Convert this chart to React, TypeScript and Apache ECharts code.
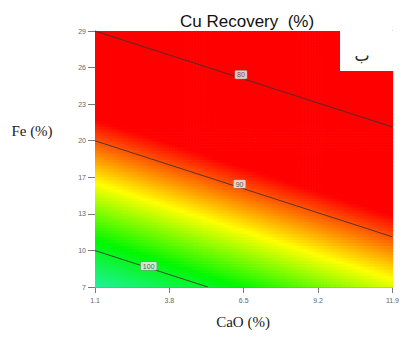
import React, { useEffect, useRef } from "react";
import * as echarts from "echarts";

// Axis ranges and tick labels
const caoRange = [1.1, 11.9];
const feRange = [7, 29];
const caoTicks = ["1.1", "3.8", "6.5", "9.2", "11.9"];
const feTicks = ["7", "10", "13", "17", "20", "23", "26", "29"];

// Fitted response surface: Recovery = b0 + bCaO*CaO + bFe*Fe (estimated from contour positions)
const modelCoef = [111.63, -0.81, -1.06];

// Contour levels and where their labels sit (CaO, Fe)
const contourLevels = [80, 90, 100];
const contourLabelCaO = [6.4, 6.35, 3.05];
const contourLabelFe = [25.25, 15.85, 8.8];

// Colour ramp (recovery value -> colour)
const colorStopValues = [88, 91, 93.8, 99, 103.5];
const colorStopColors = ["#ff0000", "#ff8000", "#ffff00", "#00f800", "#22f0a4"];

const NX = 100;
const NY = 86;

function recovery(cao: number, fe: number) {
  return modelCoef[0] + modelCoef[1] * cao + modelCoef[2] * fe;
}

function hexToRgb(h: string) {
  const n = parseInt(h.slice(1), 16);
  return [(n >> 16) & 255, (n >> 8) & 255, n & 255];
}

function rampColor(v: number) {
  if (v <= colorStopValues[0]) return colorStopColors[0];
  const last = colorStopValues.length - 1;
  if (v >= colorStopValues[last]) return colorStopColors[last];
  for (let i = 0; i < last; i++) {
    const a = colorStopValues[i];
    const b = colorStopValues[i + 1];
    if (v >= a && v <= b) {
      const t = (v - a) / (b - a);
      const c0 = hexToRgb(colorStopColors[i]);
      const c1 = hexToRgb(colorStopColors[i + 1]);
      const c = c0.map((x, k) => Math.round(x + (c1[k] - x) * t));
      return `rgb(${c[0]},${c[1]},${c[2]})`;
    }
  }
  return colorStopColors[last];
}

function contourSegment(level: number) {
  const pts: number[][] = [];
  const feAt = (cao: number) => (level - modelCoef[0] - modelCoef[1] * cao) / modelCoef[2];
  const caoAt = (fe: number) => (level - modelCoef[0] - modelCoef[2] * fe) / modelCoef[1];
  const fe0 = feAt(caoRange[0]);
  if (fe0 > feRange[1]) pts.push([caoAt(feRange[1]), feRange[1]]);
  else if (fe0 >= feRange[0]) pts.push([caoRange[0], fe0]);
  const fe1 = feAt(caoRange[1]);
  if (fe1 < feRange[0]) pts.push([caoAt(feRange[0]), feRange[0]]);
  else if (fe1 <= feRange[1]) pts.push([caoRange[1], fe1]);
  return pts;
}

export default function App() {
  const ref = useRef<HTMLDivElement>(null);
  useEffect(() => {
    if (!ref.current) return;
    const chart = echarts.init(ref.current, null, { renderer: "svg" });
    const dx = (caoRange[1] - caoRange[0]) / NX;
    const dy = (feRange[1] - feRange[0]) / NY;
    const cells: number[][] = [];
    for (let i = 0; i < NX; i++) {
      for (let j = 0; j < NY; j++) {
        const cao = caoRange[0] + (i + 0.5) * dx;
        const fe = feRange[0] + (j + 0.5) * dy;
        cells.push([cao, fe, recovery(cao, fe)]);
      }
    }
    const axisGray = "#7a7a7a";
    const option: any = {
      animation: false,
      backgroundColor: "#ffffff",
      title: {
        text: "Cu Recovery  (%)",
        left: 175,
        top: 8,
        textStyle: { fontFamily: "Liberation Sans, Arial", fontSize: 17, fontWeight: "normal", color: "#111" },
      },
      grid: { left: 95, top: 31, right: 6, bottom: 58, containLabel: false },
      xAxis: [
        { type: "value", min: caoRange[0], max: caoRange[1], show: false, position: "bottom" },
        {
          type: "value",
          min: 0,
          max: caoTicks.length - 1,
          interval: 1,
          position: "bottom",
          axisLine: { show: true, lineStyle: { color: axisGray, width: 1 } },
          axisTick: { show: true, length: 6, lineStyle: { color: axisGray } },
          axisLabel: {
            formatter: (v: number) => caoTicks[Math.round(v)] ?? "",
            fontSize: 7,
            color: "#666",
            margin: 10,
            fontFamily: "Liberation Sans, Arial",
          },
          splitLine: { show: false },
        },
      ],
      yAxis: [
        { type: "value", min: feRange[0], max: feRange[1], show: false, position: "left" },
        {
          type: "value",
          min: 0,
          max: feTicks.length - 1,
          interval: 1,
          position: "left",
          axisLine: { show: true, lineStyle: { color: axisGray, width: 1 } },
          axisTick: { show: true, length: 7, lineStyle: { color: axisGray } },
          axisLabel: {
            formatter: (v: number) => feTicks[Math.round(v)] ?? "",
            fontSize: 7,
            color: "#666",
            margin: 9,
            fontFamily: "Liberation Sans, Arial",
          },
          splitLine: { show: false },
        },
        {
          type: "value",
          min: 0,
          max: 1,
          position: "right",
          axisLine: { show: true, lineStyle: { color: "#9a9a9a", width: 1 } },
          axisTick: { show: false },
          axisLabel: { show: false },
          splitLine: { show: false },
        },
      ],
      series: [
        {
          type: "custom",
          xAxisIndex: 0,
          yAxisIndex: 0,
          silent: true,
          clip: true,
          data: cells,
          encode: { x: 0, y: 1 },
          renderItem: (params: any, api: any) => {
            const x = api.value(0);
            const y = api.value(1);
            const p0 = api.coord([x - dx / 2, y + dy / 2]);
            const p1 = api.coord([x + dx / 2, y - dy / 2]);
            return {
              type: "rect",
              shape: { x: p0[0], y: p0[1], width: p1[0] - p0[0] + 0.7, height: p1[1] - p0[1] + 0.7 },
              style: { fill: rampColor(api.value(2)) },
            };
          },
          z: 1,
        },
        ...contourLevels.map((lv) => ({
          type: "line",
          xAxisIndex: 0,
          yAxisIndex: 0,
          data: contourSegment(lv),
          symbol: "none",
          silent: true,
          lineStyle: { color: "#3a3030", width: 1, opacity: 0.85 },
          z: 3,
        })),
        {
          type: "scatter",
          xAxisIndex: 0,
          yAxisIndex: 0,
          symbolSize: 0,
          silent: true,
          z: 5,
          data: contourLevels.map((lv, i) => ({ value: [contourLabelCaO[i], contourLabelFe[i]], name: String(lv) })),
          label: {
            show: true,
            position: "inside",
            formatter: (p: any) => p.name,
            fontSize: 7,
            color: "#333",
            fontFamily: "Liberation Sans, Arial",
            backgroundColor: "#f2f2f2",
            borderColor: "#888",
            borderWidth: 0.6,
            borderRadius: 1,
            padding: [1, 2, 0, 2],
          },
        },
      ],
      graphic: [
        { type: "rect", left: 340, top: 31, shape: { width: 54, height: 40 }, style: { fill: "#ffffff" }, z: 10 },
        {
          type: "text",
          x: 362,
          y: 55,
          z: 11,
          style: {
            text: "ب",
            fontSize: 16,
            fontFamily: "DejaVu Sans, Noto Sans",
            fill: "#222",
            align: "center",
            verticalAlign: "middle",
          },
        },
        {
          type: "text",
          x: 32,
          y: 131,
          style: {
            text: "Fe (%)",
            fontSize: 15,
            fontFamily: "Liberation Serif, Times New Roman, serif",
            fill: "#222",
            align: "center",
            verticalAlign: "middle",
          },
        },
        {
          type: "text",
          x: 243,
          y: 322,
          style: {
            text: "CaO (%)",
            fontSize: 15,
            fontFamily: "Liberation Serif, Times New Roman, serif",
            fill: "#222",
            align: "center",
            verticalAlign: "middle",
          },
        },
      ],
    };
    chart.setOption(option);
    return () => chart.dispose();
  }, []);
  return <div ref={ref} style={{ width: 402, height: 345, position: "absolute", left: 0, top: 0 }} />;
}
